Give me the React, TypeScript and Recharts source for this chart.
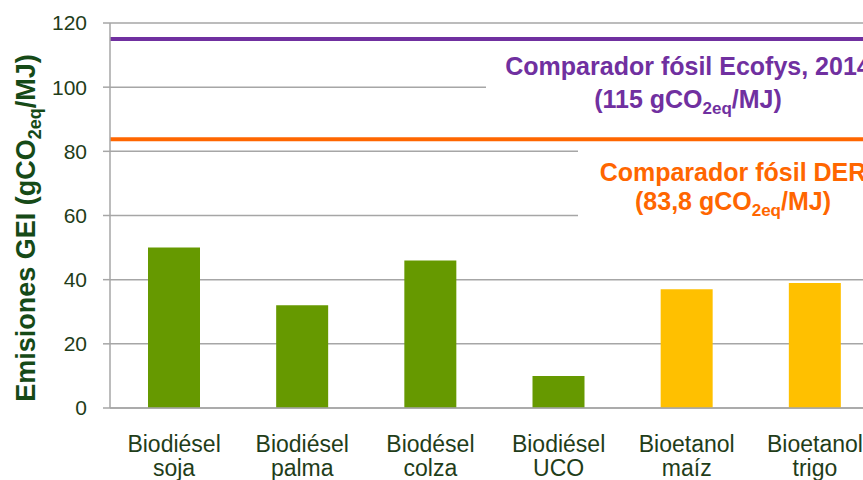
import {
  BarChart,
  Bar,
  Cell,
  XAxis,
  YAxis,
  CartesianGrid,
  ReferenceLine,
} from "recharts";

const categories = [
  "Biodiésel soja",
  "Biodiésel palma",
  "Biodésel colza",
  "Biodiésel UCO",
  "Bioetanol maíz",
  "Bioetanol trigo",
];
const fuelType = ["biodiesel", "biodiesel", "biodiesel", "biodiesel", "bioetanol", "bioetanol"];
const emissions = [50, 32, 46, 10, 37, 39];
const yTicks = [0, 20, 40, 60, 80, 100, 120];
const comparadorEcofys = 115;
const comparadorDer = 83.8;

const rows = categories.map((name, i) => ({
  name,
  type: fuelType[i],
  value: emissions[i],
}));

const FONT = "'Liberation Sans', Arial, sans-serif";
const GRID = "#a6a6a6";
const TEXT = "#1f3d19";
const PURPLE = "#7030a0";
const ORANGE = "#ff6600";
const barColor = (t: string) => (t === "bioetanol" ? "#ffc000" : "#669900");

const CategoryTick = ({ x, y, payload }: any) => {
  const [first, ...rest] = String(payload.value).split(" ");
  return (
    <text x={x} y={y} textAnchor="middle" fontFamily={FONT} fontSize={23} fill={TEXT}>
      <tspan x={x} dy={42}>{first}</tspan>
      <tspan x={x} dy={24}>{rest.join(" ")}</tspan>
    </text>
  );
};

const YTitle = () => (
  <text
    transform="translate(35, 228) rotate(-90)"
    textAnchor="middle"
    fontFamily={FONT}
    fontWeight="bold"
    fontSize={27}
    fill="#164a17"
  >
    Emisiones GEI (gCO
    <tspan fontSize={18} dy={6}>2eq</tspan>
    <tspan dy={-6}>/MJ)</tspan>
  </text>
);

// white boxes behind the comparator notes hide the gridlines, like the original
const EcofysNote = () => (
  <g>
    <rect x={486} y={47} width={420} height={80} fill="#fff" />
    <text x={688} y={75} textAnchor="middle" fontFamily={FONT} fontWeight="bold" fontSize={25} fill={PURPLE}>
      Comparador fósil Ecofys, 2014
    </text>
    <text x={688} y={108} textAnchor="middle" fontFamily={FONT} fontWeight="bold" fontSize={25} fill={PURPLE}>
      (115 gCO
      <tspan fontSize={17} dy={6}>2eq</tspan>
      <tspan dy={-6}>/MJ)</tspan>
    </text>
  </g>
);

const DerNote = () => (
  <g>
    <rect x={578} y={146} width={330} height={80} fill="#fff" />
    <text x={733} y={181} textAnchor="middle" fontFamily={FONT} fontWeight="bold" fontSize={25} fill={ORANGE}>
      Comparador fósil DER
    </text>
    <text x={733} y={210} textAnchor="middle" fontFamily={FONT} fontWeight="bold" fontSize={25} fill={ORANGE}>
      (83,8 gCO
      <tspan fontSize={17} dy={6}>2eq</tspan>
      <tspan dy={-6}>/MJ)</tspan>
    </text>
  </g>
);

export default function App() {
  return (
    <div
      style={{
        position: "fixed",
        left: 0,
        top: 0,
        width: 863,
        height: 480,
        overflow: "hidden",
        background: "#fff",
      }}
    >
      <BarChart
        width={900}
        height={480}
        data={rows}
        margin={{ top: 23, right: 21, left: 0, bottom: 0 }}
      >
        <CartesianGrid vertical={false} stroke={GRID} strokeWidth={1.5} />
        <XAxis
          dataKey="name"
          height={72}
          interval={0}
          tickLine={false}
          tickSize={0}
          axisLine={{ stroke: GRID, strokeWidth: 1.5 }}
          tick={<CategoryTick />}
        />
        <YAxis
          width={110}
          domain={[0, 120]}
          ticks={yTicks}
          interval={0}
          tickSize={7}
          tickMargin={16}
          tickLine={{ stroke: GRID, strokeWidth: 1.5 }}
          axisLine={{ stroke: GRID, strokeWidth: 1.5 }}
          tick={{ fontFamily: FONT, fontSize: 21, fill: TEXT }}
          label={() => <YTitle />}
        />
        <Bar dataKey="value" barSize={52} isAnimationActive={false}>
          {rows.map((r) => (
            <Cell key={r.name} fill={barColor(r.type)} />
          ))}
        </Bar>
        <ReferenceLine
          y={comparadorEcofys}
          stroke={PURPLE}
          strokeWidth={4}
          label={() => <EcofysNote />}
        />
        <ReferenceLine
          y={comparadorDer}
          stroke={ORANGE}
          strokeWidth={4}
          label={() => <DerNote />}
        />
      </BarChart>
    </div>
  );
}
